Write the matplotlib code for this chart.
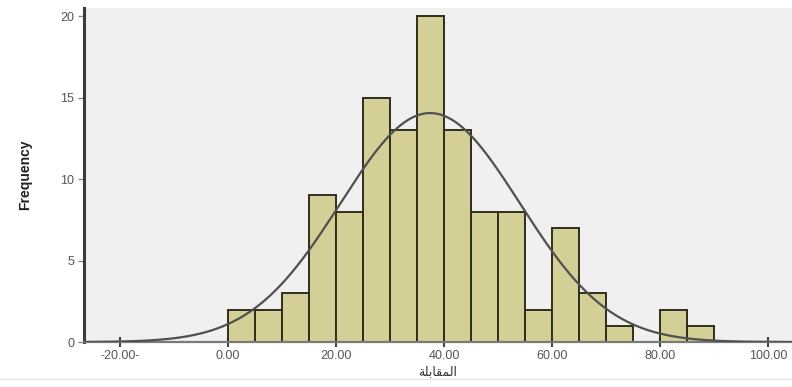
import numpy as np
import matplotlib
matplotlib.use("Agg")
import matplotlib.pyplot as plt
from matplotlib.lines import Line2D

# histogram counts, 5-point bins starting at 0
bin_edges = [0, 5, 10, 15, 20, 25, 30, 35, 40, 45, 50, 55, 60, 65, 70, 75, 80, 85, 90]
counts = [2, 2, 3, 9, 8, 15, 13, 20, 13, 8, 8, 2, 7, 3, 1, 0, 2, 1]

# fitted normal curve parameters
mean_score = 37.4
sd_score = 16.6

x_ticks = [-20, 0, 20, 40, 60, 80, 100]
x_tick_labels = ["-20.00-", "0.00", "20.00", "40.00", "60.00", "80.00", "100.00"]
y_ticks = [0, 5, 10, 15, 20]

# Arabic label pre-shaped (presentation forms, visual order)
x_title = "\ufe94\ufee0\ufe91\ufe8e\ufed8\ufee4\ufedf\ufe8d"

fig = plt.figure(figsize=(7.92, 3.87), dpi=100)
ax = fig.add_axes([0.106, 0.116, 0.894, 0.863])
ax.set_facecolor("#f0f0f0")

widths = np.diff(bin_edges)
ax.bar(bin_edges[:-1], counts, width=widths, align="edge",
       color="#d4cf96", edgecolor="#2e2e1c", linewidth=1.4, zorder=2)

n_total = sum(counts)
xs = np.linspace(-26.7, 104.4, 400)
pdf = np.exp(-0.5 * ((xs - mean_score) / sd_score) ** 2) / (sd_score * np.sqrt(2 * np.pi))
ax.plot(xs, n_total * widths[0] * pdf, color="#505050", linewidth=1.6, zorder=3)

ax.set_xlim(-26.7, 104.4)
ax.set_ylim(0, 20.5)

for side in ["top", "right"]:
    ax.spines[side].set_visible(False)
ax.spines["left"].set_color("#3c3c3c")
ax.spines["left"].set_linewidth(2.2)
ax.spines["bottom"].set_color("#7a7a7a")
ax.spines["bottom"].set_linewidth(1.6)

ax.set_xticks(x_ticks)
ax.set_xticklabels(x_tick_labels)
ax.set_yticks(y_ticks)
ax.tick_params(axis="x", direction="inout", length=7, width=1.5, color="#444444",
               labelsize=9, labelcolor="#555555", pad=2)
ax.tick_params(axis="y", direction="out", length=4, width=1, color="#888888",
               labelsize=9, labelcolor="#555555", pad=3)
for lab in ax.get_xticklabels() + ax.get_yticklabels():
    lab.set_family("Liberation Sans")

ax.set_ylabel("Frequency", fontsize=10, fontweight="bold", family="Liberation Sans",
              color="#222222", labelpad=20)
ax.set_xlabel(x_title, fontsize=9, family="DejaVu Sans", color="#333333", labelpad=3)

# faint rule along the bottom of the figure
fig.add_artist(Line2D([0, 1], [0.02, 0.02], transform=fig.transFigure,
                      color="#e6e6e6", linewidth=1))

fig.savefig("out.png", dpi=100, facecolor="white")
